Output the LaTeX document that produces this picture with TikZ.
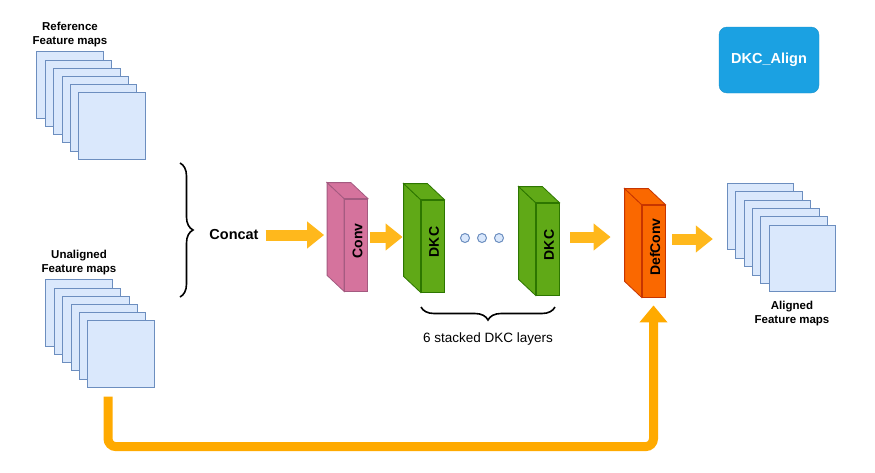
\documentclass[tikz,border=0pt]{standalone}
\usepackage{fontspec}
\setmainfont{Liberation Sans}
\usetikzlibrary{positioning,calc,arrows.meta,decorations.pathreplacing}

\definecolor{mapfill}{HTML}{DAE8FC}
\definecolor{mapline}{HTML}{6C8EBF}
\definecolor{convfill}{HTML}{D5739D}
\definecolor{convline}{HTML}{A35A80}
\definecolor{dkcfill}{HTML}{60A917}
\definecolor{dkcline}{HTML}{2D7600}
\definecolor{deffill}{HTML}{FA6800}
\definecolor{defline}{HTML}{C73500}
\definecolor{flowcol}{HTML}{FFB81C}
\definecolor{skipcol}{HTML}{FFAA00}
\definecolor{alignblue}{HTML}{1BA1E2}

\tikzset{
  fmap/.style={draw=mapline, fill=mapfill, line width=0.8pt,
    minimum width=66.5pt, minimum height=66.5pt, inner sep=0pt},
  maplabel/.style={align=center, inner sep=0pt,
    font=\fontsize{11.5}{14}\selectfont\bfseries},
  convbox/.style={draw=convline, fill=convfill, line width=0.8pt, inner sep=0pt},
  dkcbox/.style={draw=dkcline, fill=dkcfill, line width=0.8pt, inner sep=0pt},
  defbox/.style={draw=defline, fill=deffill, line width=0.8pt, inner sep=0pt},
  boxlabel/.style={font=\fontsize{14}{16}\selectfont\bfseries, inner sep=0pt},
  dot/.style={circle, draw=mapline, fill=mapfill, line width=1pt,
    minimum size=9pt, inner sep=0pt},
  flow/.style={draw=flowcol, line width=11pt,
    -{Triangle[width=26pt,length=17pt]}},
  bracket/.style={line width=1.6pt,
    decorate, decoration={brace, amplitude=13pt}}
}

\begin{document}
\begin{tikzpicture}[x=1pt, y=-1pt]
  \useasboundingbox (0,0) rectangle (875,472);

  % feature map stacks
  \foreach \i in {1,...,6} {
    \node[fmap] (ref\i) at ({70+8.4*(\i-1)},{85+8.2*(\i-1)}) {};
    \node[fmap] (unal\i) at ({79+8.4*(\i-1)},{313+8.2*(\i-1)}) {};
    \node[fmap] (alg\i) at ({760.5+8.4*(\i-1)},{216.5+8.4*(\i-1)}) {};
  }
  \node[maplabel, above=4.5pt of ref1] (reflabel) {Reference\\Feature maps};
  \node[maplabel, above=4.5pt of unal1] (unallabel) {Unaligned\\Feature maps};
  \node[maplabel] (alglabel) at (792,314) {Aligned\\Feature maps};

  \draw[bracket] (180,163) -- (180,297);
  \node[font=\fontsize{14.5}{17}\selectfont\bfseries] (concat) at (234,235) {Concat};

  % layers
  \foreach \nm/\x/\y/\sty/\txt in {conv/356/245/convbox/Conv,
      dkcA/432.5/246/dkcbox/DKC, dkcB/547.5/249/dkcbox/DKC,
      defconv/653.5/251/defbox/DefConv} {
    \node[\sty, minimum width=23pt, minimum height=92pt] (\nm) at (\x,\y) {};
    \draw[\sty] (\nm.north west) -- ++(-17,-16)
      -- ($(\nm.south west)+(-17,-16)$) -- (\nm.south west) -- cycle;
    \draw[\sty] (\nm.north west) -- ++(-17,-16)
      -- ($(\nm.north east)+(-17,-16)$) -- (\nm.north east) -- cycle;
    \node[boxlabel, rotate=90] (\nm-txt) at ($(\nm)+(1.5,-4)$) {\txt};
  }

  \foreach \i/\x in {1/465,2/482,3/499}
    \node[dot] (dot\i) at (\x,238) {};

  \draw[bracket] (555,307) -- (421,307);
  \node[font=\fontsize{13.5}{16}\selectfont] (stacklabel) at (488,339) {6 stacked DKC layers};

  \node[fill=alignblue, draw=alignblue!90!black, rounded corners=8pt,
    minimum width=100pt, minimum height=66pt, text=white,
    font=\fontsize{14.5}{17}\selectfont\bfseries] (title) at (769,60) {DKC\_Align};

  % arrows
  \draw[flow] ($(concat.east)+(3.5,0)$) -- ($(conv.west)+(-20,-10)$);
  \draw[flow] ($(conv.east)+(2.5,-8)$) -- ($(dkcA.west)+(-18,-9)$);
  \draw[flow] ($(dkcB.east)+(11,-12)$) -- ($(defconv.west)+(-31,-14)$);
  \draw[flow] ($(defconv.east)+(7,-12)$) -- ($(alg1.west)+(-14,22.5)$);
  \draw[draw=skipcol, line width=9pt, rounded corners=8pt, shorten >=8pt,
    -{Triangle[width=27pt,length=17pt]}]
    ($(unal6.south)+(-13,9)$) -- ++(0,50) -| (defconv.south);
\end{tikzpicture}
\end{document}
